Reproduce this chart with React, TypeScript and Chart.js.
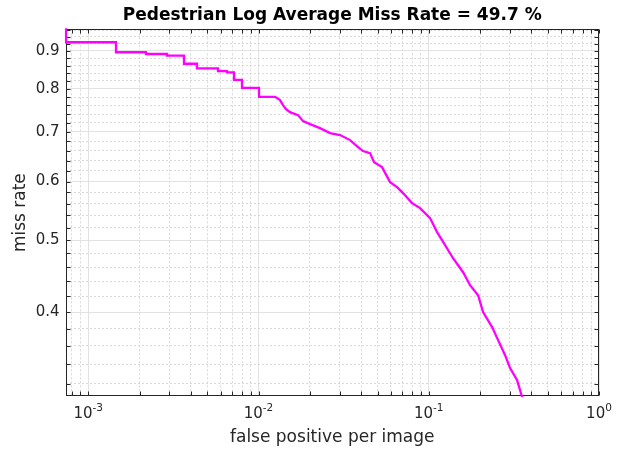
import React, { useEffect, useRef } from "react";
import { Chart, registerables } from "chart.js";

Chart.register(...registerables);

// ---- data ----
const fppi = [
  0.00074, 0.00074, 0.001455, 0.001455, 0.002183, 0.002183, 0.0029, 0.0029,
  0.00365, 0.00365, 0.00435, 0.00435, 0.00578, 0.00578, 0.00653, 0.00653,
  0.00718, 0.00718, 0.008, 0.008, 0.01007, 0.01007, 0.0125,
  0.01338, 0.01393, 0.01451, 0.01531, 0.01707, 0.01827, 0.02008, 0.02298,
  0.02632, 0.03013, 0.03449, 0.03844, 0.04113, 0.04521, 0.04771, 0.05316,
  0.05925, 0.06513, 0.07063, 0.07979, 0.0889, 0.1018, 0.1119, 0.1197,
  0.1389, 0.1591, 0.1749, 0.1949, 0.2085, 0.2355, 0.2555, 0.2808, 0.3005,
  0.3303, 0.3534, 0.37,
];
const missRate = [
  0.99, 0.9247, 0.9247, 0.8964, 0.8964, 0.8916, 0.8916, 0.8869,
  0.8869, 0.865, 0.865, 0.8526, 0.8526, 0.8455, 0.8455, 0.8421,
  0.8421, 0.823, 0.823, 0.8024, 0.8024, 0.7805, 0.7805,
  0.7726, 0.7607, 0.7513, 0.7443, 0.7374, 0.7238, 0.7171, 0.7083,
  0.6974, 0.6931, 0.6824, 0.6678, 0.6595, 0.6554, 0.6373, 0.6275,
  0.5989, 0.5897, 0.5788, 0.5611, 0.5525, 0.5356, 0.5128, 0.5003,
  0.4728, 0.4527, 0.4348, 0.4215, 0.3999, 0.3817, 0.3666, 0.3499, 0.3361,
  0.3238, 0.3072, 0.29,
];

const titleText = "Pedestrian Log Average Miss Rate = 49.7 %";
const xAxisTitle = "false positive per image";
const yAxisTitle = "miss rate";

const xMajorTicks = [0.001, 0.01, 0.1, 1];
const xTickExponents = ["-3", "-2", "-1", "0"];
const yMajorTicks = [0.4, 0.5, 0.6, 0.7, 0.8, 0.9];
const yTickLabels = ["0.4", "0.5", "0.6", "0.7", "0.8", "0.9"];

const X_MIN = 0.000735;
const X_MAX = 1;
const Y_MIN = 0.3082;
const Y_MAX = 0.9627;

const FONT = "'DejaVu Sans', sans-serif";
const TEXT_COLOR = "#262626";

function buildXTicks() {
  const out: { value: number; major: boolean }[] = [];
  for (let e = -4; e <= 0; e++) {
    for (let m = 1; m <= 9; m++) {
      const v = parseFloat((m * Math.pow(10, e)).toPrecision(6));
      if (v < X_MIN || v > X_MAX * 1.0000001) continue;
      out.push({ value: v, major: m === 1 });
    }
  }
  return out;
}

function buildYTicks() {
  const out: { value: number; major: boolean }[] = [];
  for (let k = 16; k <= 48; k++) {
    const v = parseFloat((k * 0.02).toFixed(2));
    if (v < Y_MIN || v > Y_MAX) continue;
    out.push({ value: v, major: yMajorTicks.some((t) => Math.abs(t - v) < 1e-9) });
  }
  return out;
}

const framePlugin = {
  id: "frame",
  beforeDatasetsDraw(chart: any) {
    const { ctx, chartArea } = chart;
    const { left, right, top, bottom } = chartArea;
    const xs = chart.scales.x;
    const ys = chart.scales.y;
    ctx.save();
    ctx.strokeStyle = TEXT_COLOR;
    ctx.lineWidth = 1;
    const L = Math.round(left) + 0.5;
    const R = Math.round(right) - 0.5;
    const T = Math.round(top) + 0.5;
    const B = Math.round(bottom) - 0.5;
    ctx.strokeRect(L, T, R - L, B - T);
    ctx.beginPath();
    const len = 4;
    for (const t of xs.ticks) {
      const px = Math.round(xs.getPixelForValue(t.value)) + 0.5;
      ctx.moveTo(px, B);
      ctx.lineTo(px, B - len);
      ctx.moveTo(px, T);
      ctx.lineTo(px, T + len);
    }
    for (const t of ys.ticks) {
      const py = Math.round(ys.getPixelForValue(t.value)) + 0.5;
      ctx.moveTo(L, py);
      ctx.lineTo(L + len, py);
      ctx.moveTo(R, py);
      ctx.lineTo(R - len, py);
    }
    ctx.stroke();
    ctx.restore();
  },
  afterDraw(chart: any) {
    const { ctx, chartArea } = chart;
    const xs = chart.scales.x;
    ctx.save();
    ctx.fillStyle = TEXT_COLOR;
    ctx.textBaseline = "alphabetic";
    const baseY = chartArea.bottom + 22;
    xMajorTicks.forEach((v, i) => {
      const px = xs.getPixelForValue(v);
      ctx.font = `15px ${FONT}`;
      const wBase = ctx.measureText("10").width;
      ctx.font = `10.5px ${FONT}`;
      const wExp = ctx.measureText(xTickExponents[i]).width;
      const start = px - (wBase + wExp) / 2;
      ctx.font = `15px ${FONT}`;
      ctx.fillText("10", start, baseY);
      ctx.font = `10.5px ${FONT}`;
      ctx.fillText(xTickExponents[i], start + wBase, baseY - 7);
    });
    ctx.restore();
  },
};

export default function App() {
  const canvasRef = useRef<HTMLCanvasElement | null>(null);

  useEffect(() => {
    document.body.style.margin = "0";
    const canvas = canvasRef.current;
    if (!canvas) return;
    const points = fppi.map((x, i) => ({ x, y: missRate[i] }));
    const chart = new Chart(canvas, {
      type: "line",
      data: {
        datasets: [
          {
            data: points,
            borderColor: "#ff00ff",
            borderWidth: 2.3,
            pointRadius: 0,
            tension: 0,
            fill: false,
            clip: 1,
          },
        ],
      },
      options: {
        responsive: false,
        animation: false,
        layout: { padding: { left: 0, right: 25, top: 0, bottom: 0 } },
        plugins: {
          legend: { display: false },
          tooltip: { enabled: false },
          title: {
            display: true,
            text: titleText,
            fullSize: false,
            color: "#000000",
            font: { family: FONT, size: 17, weight: "bold" },
            padding: { top: 5.5, bottom: 3.4 },
          },
        },
        scales: {
          x: {
            type: "logarithmic",
            min: X_MIN,
            max: X_MAX,
            bounds: "data",
            afterBuildTicks: (scale: any) => {
              scale.ticks = buildXTicks();
            },
            afterFit: (scale: any) => {
              scale.height = 56;
            },
            ticks: { display: false, autoSkip: false },
            grid: {
              drawTicks: false,
              color: (c: any) => (c.tick && c.tick.major ? "#e2e2e2" : "#d9d9d9"),
              lineWidth: 1,
            },
            border: {
              display: false,
              dash: (c: any) => (c.tick && !c.tick.major ? [2, 2] : []),
            },
            title: {
              display: true,
              text: xAxisTitle,
              color: TEXT_COLOR,
              font: { family: FONT, size: 17 },
              padding: { top: 0, bottom: 4 },
            },
          },
          y: {
            type: "logarithmic",
            min: Y_MIN,
            max: Y_MAX,
            bounds: "data",
            afterBuildTicks: (scale: any) => {
              scale.ticks = buildYTicks();
            },
            afterFit: (scale: any) => {
              scale.width = 65.5;
            },
            ticks: {
              autoSkip: false,
              padding: 6,
              color: TEXT_COLOR,
              font: { family: FONT, size: 15 },
              callback: (value: any) => {
                const idx = yMajorTicks.findIndex((t) => Math.abs(t - Number(value)) < 1e-9);
                return idx >= 0 ? yTickLabels[idx] : "";
              },
            },
            grid: {
              drawTicks: false,
              color: (c: any) => (c.tick && c.tick.major ? "#e2e2e2" : "#d9d9d9"),
              lineWidth: 1,
            },
            border: {
              display: false,
              dash: (c: any) => (c.tick && !c.tick.major ? [2, 2] : []),
            },
            title: {
              display: true,
              text: yAxisTitle,
              color: TEXT_COLOR,
              font: { family: FONT, size: 17 },
              padding: { top: 10, bottom: 0 },
            },
          },
        },
      },
      plugins: [framePlugin],
    });
    return () => chart.destroy();
  }, []);

  return (
    <div style={{ width: 624, height: 452 }}>
      <canvas ref={canvasRef} width={624} height={452} style={{ display: "block" }} />
    </div>
  );
}
